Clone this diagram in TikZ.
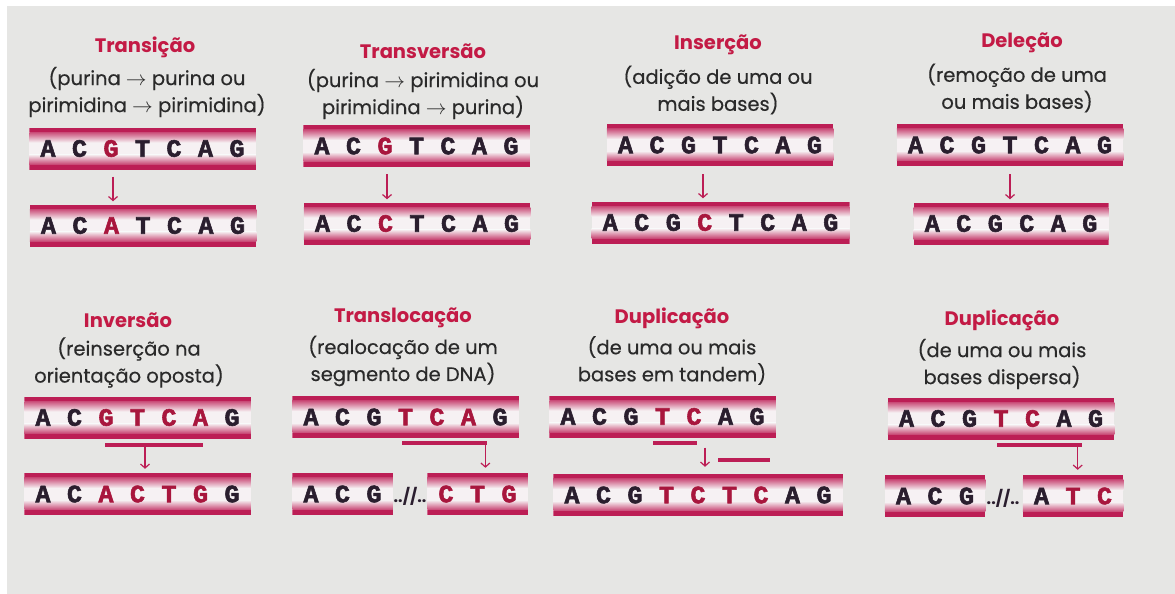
\documentclass[tikz,border=0pt]{standalone}
\usepackage{fontspec}
\setmainfont{Poppins}
\newfontfamily\descfont{Poppins}[FakeBold=0.4]
\newfontfamily\basefont{Liberation Mono}[BoldFeatures={FakeBold=2.2}]
\usetikzlibrary{arrows.meta}
\definecolor{pagebg}{HTML}{E6E6E4}
\definecolor{titlered}{HTML}{C31A45}
\definecolor{textdark}{HTML}{2A2A2A}
\definecolor{basedark}{HTML}{2A1E2E}
\definecolor{basered}{HTML}{A8163D}
\definecolor{barcol}{HTML}{BC1E55}
\definecolor{strandmid}{HTML}{F6F1F3}
\newcommand\bN[1]{\makebox[31.5pt]{#1}}
\newcommand\bR[1]{\makebox[31.5pt]{\color{basered}#1}}
\tikzset{
  strand/.style={rectangle, inner xsep=3pt, inner ysep=0pt, minimum height=42pt,
    fill=strandmid, text=basedark,
    font=\basefont\bfseries\fontsize{25}{25}\selectfont,
    path picture={
      \fill[barcol] (path picture bounding box.north west) rectangle ([yshift=-4.5pt]path picture bounding box.north east);
      \shade[top color=barcol!80, bottom color=strandmid] ([yshift=-4.5pt]path picture bounding box.north west) rectangle ([yshift=-15pt]path picture bounding box.north east);
      \fill[barcol] (path picture bounding box.south west) rectangle ([yshift=5.5pt]path picture bounding box.south east);
      \shade[bottom color=barcol!80, top color=strandmid] ([yshift=5.5pt]path picture bounding box.south west) rectangle ([yshift=15pt]path picture bounding box.south east);
    }},
  ttl/.style={text=titlered, font=\bfseries\fontsize{19.5}{22}\selectfont, inner sep=0pt},
  desc/.style={text=textdark, font=\descfont\fontsize{19.5}{27}\selectfont, align=center, inner sep=0pt},
  segbar/.style={rectangle, fill=barcol, minimum height=3.6pt, inner sep=0pt},
  arr/.style={draw=barcol, line width=1.3pt, -{Straight Barb[length=4pt,width=9pt,line width=1.2pt]}},
  gap/.style={text=basedark, font=\bfseries\fontsize{16}{16}\selectfont, inner sep=0pt},
}
\begin{document}
\begin{tikzpicture}[x=1pt,y=-1pt]
\useasboundingbox (0,0) rectangle (1175,594);
\fill[white] (0,0) rectangle (1175,594);
\fill[pagebg] (7,6) rectangle (1175,594);

% ---- Panel 1: Transicao
\node[ttl] (t1) at (145,47) {Transição};
\node[desc] (d1) at (147,92) {(purina $\rightarrow$ purina ou\\pirimidina $\rightarrow$ pirimidina)};
\node[strand] (s1a) at (142.5,148.5) {\bN{A}\bN{C}\bR{G}\bN{T}\bN{C}\bN{A}\bN{G}};
\node[strand] (s1b) at (143,225.5) {\bN{A}\bN{C}\bR{A}\bN{T}\bN{C}\bN{A}\bN{G}};
\draw[arr, shorten <=7pt, shorten >=3pt] (s1a.south -| 113,0) -- (s1b.north -| 113,0);

% ---- Panel 2: Transversao
\node[ttl] (t2) at (423,51) {Transversão};
\node[desc] (d2) at (423,94) {(purina $\rightarrow$ pirimidina ou\\pirimidina $\rightarrow$ purina)};
\node[strand] (s2a) at (416.5,146) {\bN{A}\bN{C}\bR{G}\bN{T}\bN{C}\bN{A}\bN{G}};
\node[strand] (s2b) at (417,223.5) {\bN{A}\bN{C}\bR{C}\bN{T}\bN{C}\bN{A}\bN{G}};
\draw[arr, shorten <=7pt, shorten >=3pt] (s2a.south -| 387,0) -- (s2b.north -| 387,0);

% ---- Panel 3: Insercao
\node[ttl] (t3) at (718,45) {Inserção};
\node[desc] (d3) at (718,90) {(adição de uma ou\\mais bases)};
\node[strand] (s3a) at (720,145) {\bN{A}\bN{C}\bN{G}\bN{T}\bN{C}\bN{A}\bN{G}};
\node[strand] (s3b) at (720.5,222.5) {\bN{A}\bN{C}\bN{G}\bR{C}\bN{T}\bN{C}\bN{A}\bN{G}};
\draw[arr, shorten <=8pt, shorten >=3pt] (s3a.south -| 703,0) -- (s3b.north -| 703,0);

% ---- Panel 4: Delecao
\node[ttl] (t4) at (1022,43) {Deleção};
\node[desc] (d4) at (1017,88) {(remoção de uma\\ou mais bases)};
\node[strand] (s4a) at (1010,145) {\bN{A}\bN{C}\bN{G}\bN{T}\bN{C}\bN{A}\bN{G}};
\node[strand] (s4b) at (1011,223.5) {\bN{A}\bN{C}\bN{G}\bN{C}\bN{A}\bN{G}};
\draw[arr, shorten <=8pt, shorten >=3pt] (s4a.south -| 1010,0) -- (s4b.north -| 1010,0);

% ---- Panel 5: Inversao
\node[ttl] (t5) at (128,320) {Inversão};
\node[desc] (d5) at (129,362.5) {(reinserção na\\orientação oposta)};
\node[strand] (s5a) at (137.5,417.5) {\bN{A}\bN{C}\bR{G}\bR{T}\bR{C}\bR{A}\bN{G}};
\node[strand] (s5b) at (137.5,494) {\bN{A}\bN{C}\bR{A}\bR{C}\bR{T}\bR{G}\bN{G}};
\node[segbar, minimum width=98pt] (u5) at (154,445) {};
\draw[arr, shorten >=4pt] (u5.south -| 145,0) -- (s5b.north -| 145,0);

% ---- Panel 6: Translocacao
\node[ttl] (t6) at (403,318) {Translocação};
\node[desc] (d6) at (403,361) {(realocação de um\\segmento de DNA)};
\node[strand] (s6a) at (405.5,417) {\bN{A}\bN{C}\bN{G}\bR{T}\bR{C}\bR{A}\bN{G}};
\node[strand] (s6b) at (342.5,494) {\bN{A}\bN{C}\bN{G}};
\node[strand] (s6c) at (477.5,494) {\bR{C}\bR{T}\bR{G}};
\node[gap] (g6) at (410,496) {..//..};
\node[segbar, minimum width=85pt] (u6) at (444.5,443) {};
\draw[arr, shorten >=5pt] ([xshift=-1.8pt]u6.north east) -- ([xshift=-1.8pt]u6.north east |- s6c.north);

% ---- Panel 7: Duplicacao em tandem
\node[ttl] (t7) at (672,318) {Duplicação};
\node[desc] (d7) at (672,360.5) {(de uma ou mais\\bases em tandem)};
\node[strand] (s7a) at (662.5,416.5) {\bN{A}\bN{C}\bN{G}\bR{T}\bR{C}\bN{A}\bN{G}};
\node[strand] (s7b) at (698,495) {\bN{A}\bN{C}\bN{G}\bR{T}\bR{C}\bR{T}\bR{C}\bN{A}\bN{G}};
\node[segbar, minimum width=44pt] (u7a) at (675,443) {};
\node[segbar, minimum width=52pt] (u7b) at (744,460) {};
\draw[arr, shorten <=10pt, shorten >=7pt] (s7a.south -| 705,0) -- (s7b.north -| 705,0);

% ---- Panel 8: Duplicacao dispersa
\node[ttl] (t8) at (1002,320) {Duplicação};
\node[desc] (d8) at (1002,364) {(de uma ou mais\\bases dispersa)};
\node[strand] (s8a) at (1001,418.5) {\bN{A}\bN{C}\bN{G}\bR{T}\bR{C}\bN{A}\bN{G}};
\node[strand] (s8b) at (935,496) {\bN{A}\bN{C}\bN{G}};
\node[strand] (s8c) at (1073,496) {\bN{A}\bR{T}\bR{C}};
\node[gap] (g8) at (1003,498) {..//..};
\node[segbar, minimum width=85pt] (u8) at (1039.5,445) {};
\draw[arr, shorten >=5pt] ([xshift=-4.5pt]u8.north east) -- ([xshift=-4.5pt]u8.north east |- s8c.north);
\end{tikzpicture}
\end{document}
